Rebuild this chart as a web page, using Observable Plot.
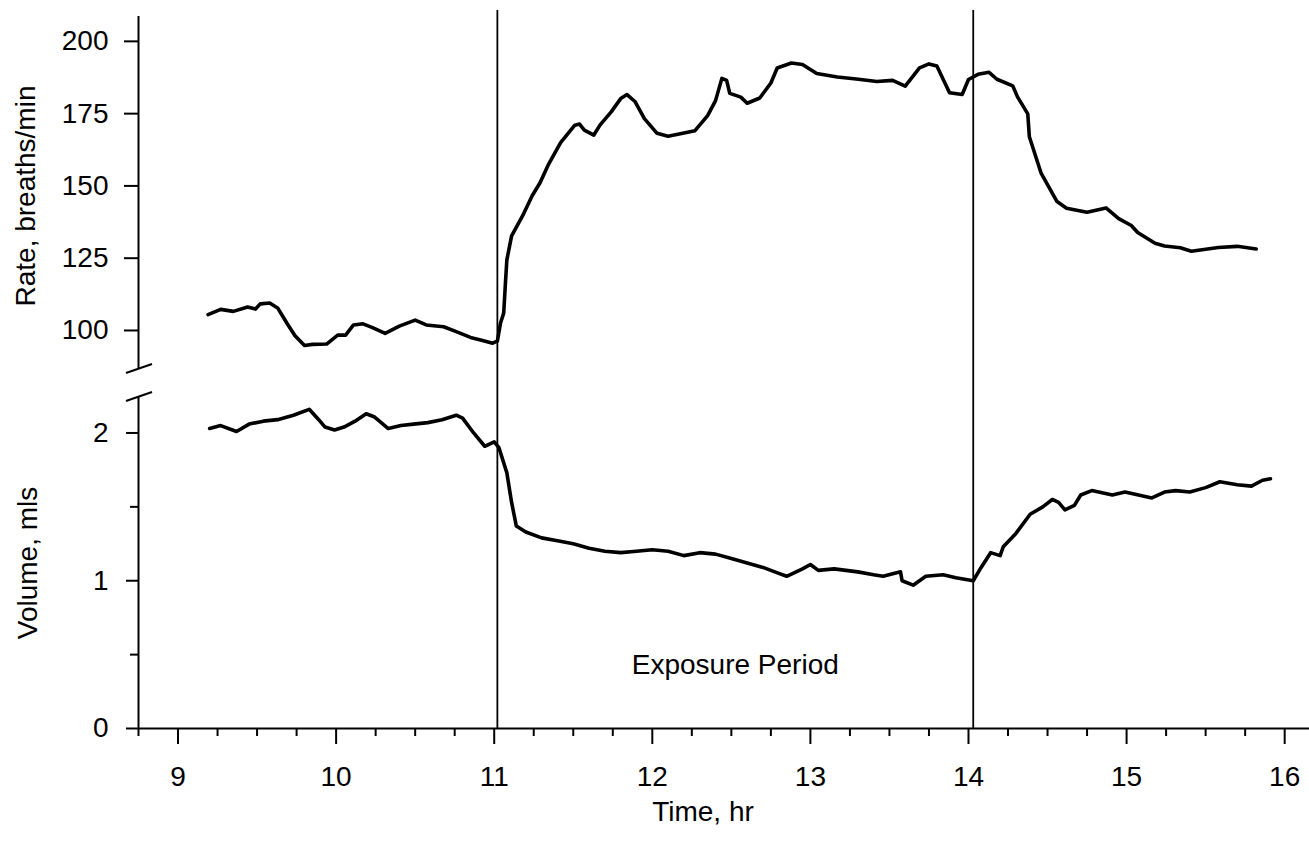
<!DOCTYPE html>
<html><head><meta charset="utf-8">
<script src="https://cdn.jsdelivr.net/npm/d3@7"></script>
<script src="https://cdn.jsdelivr.net/npm/@observablehq/plot@0.6"></script>
<style>
html,body{margin:0;padding:0;background:#fff;}
#chart{width:1309px;height:845px;position:relative;overflow:hidden;background:#fff}
#chart svg{display:block}
</style></head><body><div id="chart"></div>
<script>
// ---- data ----
const rateHour = [9.19, 9.27, 9.35, 9.44, 9.49, 9.52, 9.58, 9.63, 9.69, 9.74, 9.80, 9.85, 9.94, 10.01, 10.06, 10.11, 10.17, 10.23, 10.31, 10.40, 10.50, 10.57, 10.68, 10.76, 10.85, 10.92, 10.99, 11.02, 11.04, 11.06, 11.07, 11.08, 11.11, 11.18, 11.24, 11.29, 11.34, 11.42, 11.51, 11.54, 11.57, 11.63, 11.67, 11.74, 11.80, 11.84, 11.89, 11.95, 12.03, 12.10, 12.27, 12.35, 12.40, 12.44, 12.47, 12.49, 12.56, 12.60, 12.68, 12.75, 12.79, 12.88, 12.95, 13.04, 13.17, 13.29, 13.42, 13.52, 13.60, 13.69, 13.75, 13.80, 13.88, 13.96, 14.00, 14.06, 14.13, 14.18, 14.28, 14.31, 14.375, 14.385, 14.46, 14.56, 14.62, 14.75, 14.87, 14.95, 15.03, 15.07, 15.18, 15.24, 15.34, 15.41, 15.58, 15.70, 15.82];
const rateValue = [105.5, 107.3, 106.6, 108.1, 107.4, 109.2, 109.5, 107.8, 102.4, 98.2, 94.8, 95.2, 95.3, 98.4, 98.4, 101.9, 102.3, 101.0, 99.0, 101.5, 103.6, 101.9, 101.3, 99.6, 97.6, 96.6, 95.6, 96.3, 102.6, 106.0, 115.4, 124.4, 132.7, 139.7, 146.6, 151.1, 157.1, 165.0, 171.0, 171.4, 169.3, 167.6, 171.1, 175.6, 180.2, 181.6, 179.2, 173.3, 168.2, 167.2, 169.1, 174.3, 179.5, 187.2, 186.5, 182.0, 180.7, 178.6, 180.4, 185.6, 190.8, 192.5, 192.0, 188.9, 187.7, 187.0, 186.1, 186.5, 184.5, 190.8, 192.2, 191.5, 182.2, 181.6, 186.8, 188.6, 189.3, 186.9, 184.6, 180.8, 174.9, 167.0, 154.3, 144.6, 142.3, 140.9, 142.4, 138.7, 136.3, 133.9, 130.2, 129.2, 128.6, 127.4, 128.7, 129.1, 128.2];

const volHour = [9.20, 9.27, 9.37, 9.45, 9.54, 9.63, 9.73, 9.83, 9.89, 9.93, 9.99, 10.05, 10.12, 10.19, 10.24, 10.33, 10.41, 10.49, 10.58, 10.67, 10.76, 10.80, 10.87, 10.94, 11.00, 11.03, 11.08, 11.11, 11.14, 11.20, 11.30, 11.40, 11.50, 11.60, 11.70, 11.80, 11.90, 12.00, 12.10, 12.20, 12.30, 12.40, 12.50, 12.60, 12.70, 12.80, 12.85, 12.95, 13.00, 13.05, 13.15, 13.30, 13.40, 13.46, 13.57, 13.58, 13.65, 13.73, 13.84, 13.92, 14.03, 14.08, 14.14, 14.20, 14.22, 14.30, 14.39, 14.47, 14.53, 14.57, 14.61, 14.67, 14.71, 14.78, 14.91, 14.99, 15.16, 15.24, 15.31, 15.40, 15.50, 15.59, 15.70, 15.79, 15.86, 15.91];
const volValue = [2.03, 2.05, 2.01, 2.06, 2.08, 2.09, 2.12, 2.16, 2.09, 2.04, 2.02, 2.04, 2.08, 2.13, 2.11, 2.03, 2.05, 2.06, 2.07, 2.09, 2.12, 2.10, 2.00, 1.91, 1.94, 1.90, 1.73, 1.53, 1.37, 1.33, 1.29, 1.27, 1.25, 1.22, 1.20, 1.19, 1.20, 1.21, 1.20, 1.17, 1.19, 1.18, 1.15, 1.12, 1.09, 1.05, 1.03, 1.08, 1.11, 1.07, 1.08, 1.06, 1.04, 1.03, 1.06, 1.00, 0.97, 1.03, 1.04, 1.02, 1.00, 1.09, 1.19, 1.17, 1.23, 1.32, 1.45, 1.50, 1.55, 1.53, 1.48, 1.51, 1.58, 1.61, 1.58, 1.60, 1.56, 1.60, 1.61, 1.60, 1.63, 1.67, 1.65, 1.64, 1.68, 1.69];

const exposure = [11.02, 14.03];
const exposureLabel = "Exposure Period";
const xDomain = [8.75, 16.157];
const rateDomain = [86.5, 208.6];
const volDomain = [0, 2.24];
const xMajorTicks = [9, 10, 11, 12, 13, 14, 15, 16];
const xMinorTicks = [8.75, 9.25, 9.5, 9.75, 10.25, 10.5, 10.75, 11.25, 11.5, 11.75, 12.25, 12.5, 12.75, 13.25, 13.5, 13.75, 14.25, 14.5, 14.75, 15.25, 15.5, 15.75];
const rateTicks = [100, 125, 150, 175, 200];
const volMajorTicks = [0, 1, 2];
const volMinorTicks = [0.5, 1.5];
const xLabel = "Time, hr";
const rateLabel = "Rate, breaths/min";
const volLabel = "Volume, mls";

const rate = rateHour.map((h, i) => ({hour: h, value: rateValue[i]}));
const vol = volHour.map((h, i) => ({hour: h, value: volValue[i]}));

const FONT = "'Liberation Sans', Arial, Helvetica, sans-serif";
const FS = 28;
const style = {fontFamily: FONT, fontSize: FS + "px", color: "black", background: "white", overflow: "visible"};

// axis-break mark drawn at an end of the left axis
function breakMark(where) {
  return (index, scales, values, dims) => {
    const g = d3.create("svg:g");
    const x0 = dims.marginLeft;
    const y0 = where === "bottom" ? dims.height - dims.marginBottom : dims.marginTop;
    g.append("line")
      .attr("x1", x0 - 12).attr("y1", y0 + 4)
      .attr("x2", x0 + 14).attr("y2", y0 - 5)
      .attr("stroke", "black").attr("stroke-width", 2);
    return g.node();
  };
}

const topPlot = Plot.plot({
  width: 1309, height: 389,
  marginLeft: 138, marginRight: 0, marginTop: 16, marginBottom: 20,
  style,
  x: {domain: xDomain, axis: null},
  y: {domain: rateDomain},
  marks: [
    Plot.axisY({ticks: rateTicks, tickSize: 14, tickPadding: 16, strokeWidth: 2, label: null, tickFormat: d => String(d)}),
    Plot.ruleX([xDomain[0]], {strokeWidth: 2}),
    Plot.ruleX(exposure, {strokeWidth: 1.8, insetBottom: -20, insetTop: -6}),
    Plot.line(rate, {x: "hour", y: "value", strokeWidth: 3.6, strokeLinejoin: "round", strokeLinecap: "round"}),
    Plot.text([rateLabel], {text: d => d, frameAnchor: "left", textAnchor: "middle", lineAnchor: "middle", rotate: -90, dx: -112, dy: 3, fontSize: FS}),
    breakMark("bottom")
  ]
});

const bottomPlot = Plot.plot({
  width: 1309, height: 456,
  marginLeft: 138, marginRight: 0, marginTop: 8, marginBottom: 117,
  style,
  x: {domain: xDomain},
  y: {domain: volDomain},
  marks: [
    Plot.axisY({ticks: volMajorTicks, tickSize: 12, tickPadding: 18, strokeWidth: 2, label: null, tickFormat: d => String(d)}),
    Plot.axisY({ticks: volMinorTicks, tickSize: 8, tickFormat: () => "", strokeWidth: 2, label: null}),
    Plot.axisX({ticks: xMajorTicks, tickSize: 16, tickPadding: 22, strokeWidth: 2, label: null, tickFormat: d => String(d)}),
    Plot.axisX({ticks: xMinorTicks, tickSize: 8, tickFormat: () => "", strokeWidth: 2, label: null}),
    Plot.ruleX([xDomain[0]], {strokeWidth: 2}),
    Plot.ruleY([volDomain[0]], {strokeWidth: 2}),
    Plot.ruleX(exposure, {strokeWidth: 1.8, insetTop: -8}),
    Plot.line(vol, {x: "hour", y: "value", strokeWidth: 3.6, strokeLinejoin: "round", strokeLinecap: "round"}),
    Plot.text([exposureLabel], {text: d => d, x: [(exposure[0] + exposure[1]) / 2], frameAnchor: "bottom", lineAnchor: "middle", dy: -63, fontSize: FS}),
    Plot.text([volLabel], {text: d => d, frameAnchor: "left", textAnchor: "middle", lineAnchor: "middle", rotate: -90, dx: -110, dy: 0, fontSize: FS}),
    Plot.text([xLabel], {text: d => d, frameAnchor: "bottom", lineAnchor: "middle", dx: -21, dy: 84, fontSize: FS}),
    breakMark("top")
  ]
});

const chart = document.getElementById("chart");
chart.appendChild(topPlot);
chart.appendChild(bottomPlot);
</script>
</body></html>
